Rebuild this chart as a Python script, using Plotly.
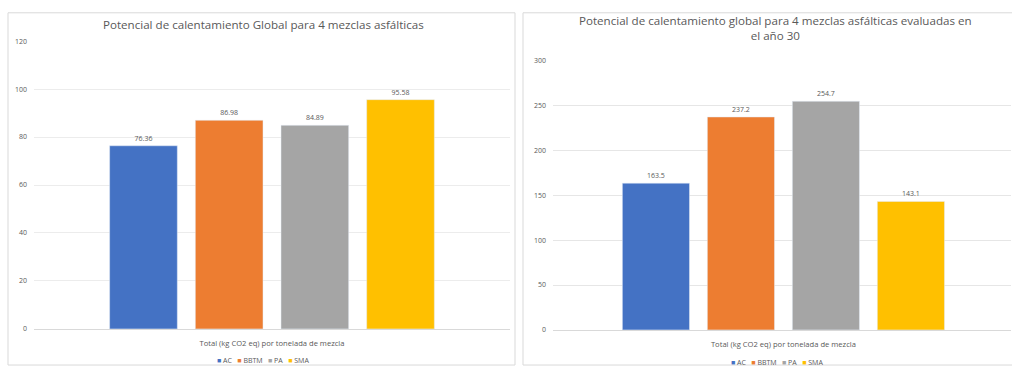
import plotly.graph_objects as go

# ---- data ----
series = ["AC", "BBTM", "PA", "SMA"]
colors = ["#4472C4", "#ED7D31", "#A5A5A5", "#FFC000"]
category = ["Total (kg CO2 eq) por tonelada de mezcla"]
left_values = [76.36, 86.98, 84.89, 95.58]
left_labels = ["76.36", "86.98", "84.89", "95.58"]
right_values = [163.5, 237.2, 254.7, 143.1]
right_labels = ["163.5", "237.2", "254.7", "143.1"]
left_title = "Potencial de calentamiento Global para 4 mezclas asfálticas"
right_title = "Potencial de calentamiento global para 4 mezclas asfálticas evaluadas en<br>el año 30"
left_ticks = [0, 20, 40, 60, 80, 100, 120]
right_ticks = [0, 50, 100, 150, 200, 250, 300]

W, H = 1012, 370
FONT = "Open Sans"
TXT = "#595959"

fig = go.Figure()
for name, col, v, lab in zip(series, colors, left_values, left_labels):
    fig.add_trace(go.Bar(x=category, y=[v], name=name, marker_color=col,
                         text=[lab], textposition="outside",
                         textfont=dict(size=7, color=TXT, family=FONT),
                         cliponaxis=False, xaxis="x", yaxis="y", showlegend=False))
for name, col, v, lab in zip(series, colors, right_values, right_labels):
    fig.add_trace(go.Bar(x=category, y=[v], name=name, marker_color=col,
                         text=[lab], textposition="outside",
                         textfont=dict(size=7, color=TXT, family=FONT),
                         cliponaxis=False, xaxis="x2", yaxis="y2", showlegend=False))

def px_x(p):
    return p / W

def px_y(p):
    return (H - p) / H

axis_common = dict(showline=False, zeroline=False, ticks="",
                   ticklabelstandoff=6,
                   tickfont=dict(size=7, color=TXT, family=FONT))
xaxis_common = dict(showgrid=False, ticks="", ticklabelstandoff=7,
                    tickfont=dict(size=7.6, color=TXT, family=FONT),
                    showline=True, linecolor="#d9d9d9", linewidth=1)
fig.update_layout(
    width=W, height=H, margin=dict(l=0, r=0, t=0, b=0),
    paper_bgcolor="white", plot_bgcolor="white",
    barmode="group", bargap=0.28, bargroupgap=0.21,
    font=dict(family=FONT, color=TXT),
    xaxis=dict(domain=[px_x(34), px_x(510)], anchor="y", **xaxis_common),
    yaxis=dict(domain=[px_y(332), px_y(37)], anchor="x", range=[0, 120],
               tickvals=left_ticks, showgrid=True, gridcolor="#ececec",
               **axis_common),
    xaxis2=dict(domain=[px_x(553), px_x(1011)], anchor="y2",
                range=[-0.488, 0.482], **xaxis_common),
    yaxis2=dict(domain=[px_y(333), px_y(57)], anchor="x2", range=[0, 300],
                tickvals=right_ticks, showgrid=True, gridcolor="#e6e6e6",
                **axis_common),
    showlegend=False,
)

# panel borders
fig.add_shape(type="rect", xref="paper", yref="paper",
              x0=px_x(8), x1=px_x(515), y0=px_y(369), y1=px_y(8),
              line=dict(color="#d9d9d9", width=1), fillcolor="rgba(0,0,0,0)")
fig.add_shape(type="rect", xref="paper", yref="paper",
              x0=px_x(523), x1=px_x(1015), y0=px_y(369), y1=px_y(8),
              line=dict(color="#d9d9d9", width=1), fillcolor="rgba(0,0,0,0)")

# titles
fig.add_annotation(text=left_title, xref="paper", yref="paper",
                   x=px_x(263), y=px_y(20), xanchor="center", yanchor="middle",
                   showarrow=False,
                   font=dict(size=11.6, color=TXT, family=FONT))
fig.add_annotation(text=right_title, xref="paper", yref="paper",
                   x=px_x(775), y=px_y(24), xanchor="center", yanchor="middle",
                   showarrow=False,
                   font=dict(size=11.6, color=TXT, family=FONT))

# legends
def legend_text():
    parts = []
    for name, col in zip(series, colors):
        parts.append(f'<span style="color:{col}">■</span> {name}')
    return "   ".join(parts)

fig.add_annotation(text=legend_text(), xref="paper", yref="paper",
                   x=px_x(263), y=px_y(364), xanchor="center", yanchor="middle",
                   showarrow=False,
                   font=dict(size=7, color=TXT, family=FONT))
fig.add_annotation(text=legend_text(), xref="paper", yref="paper",
                   x=px_x(777), y=px_y(366), xanchor="center", yanchor="middle",
                   showarrow=False,
                   font=dict(size=7, color=TXT, family=FONT))

fig.write_html("out.html")
